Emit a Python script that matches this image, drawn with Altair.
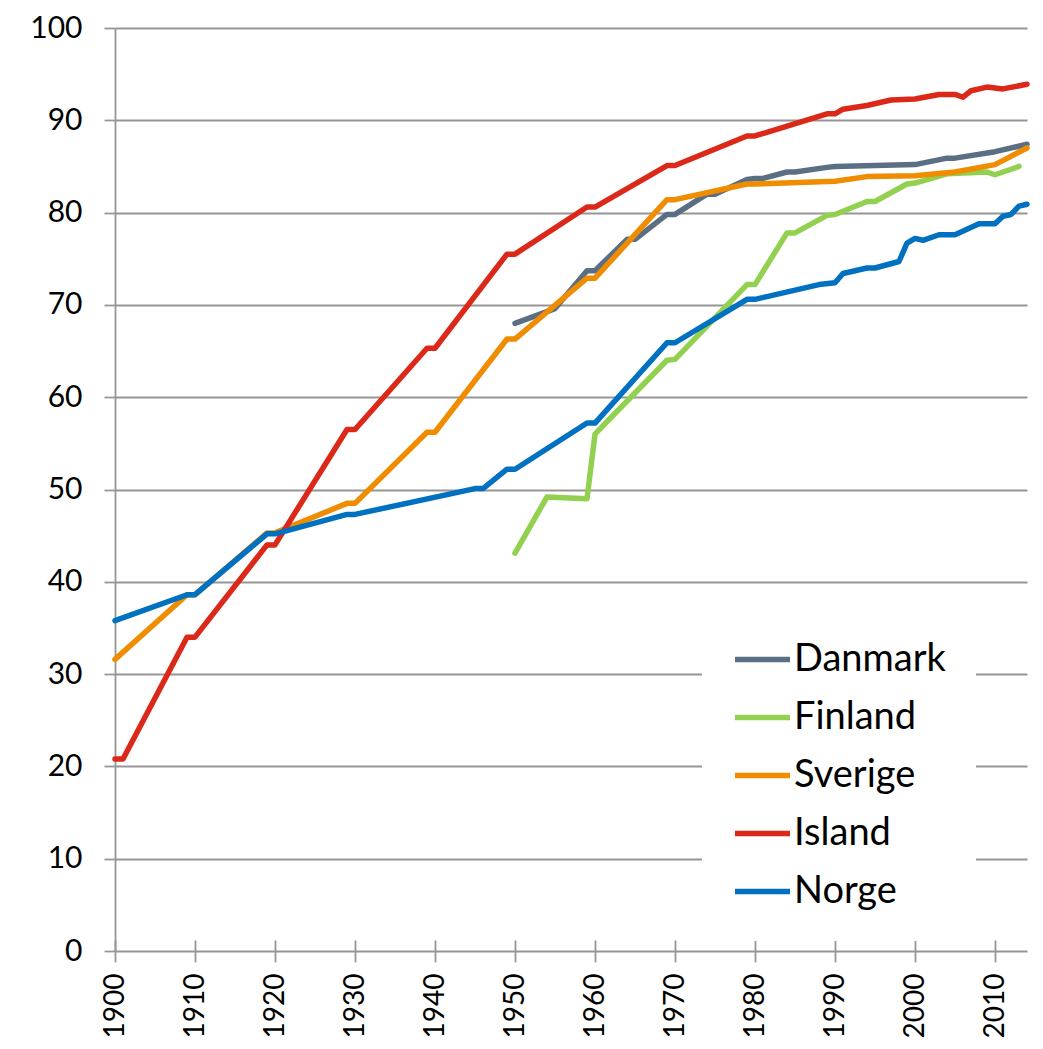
import altair as alt
import pandas as pd

countries = ["Danmark", "Finland", "Sverige", "Island", "Norge"]
colors = ["#5A6F84", "#92D050", "#F08C00", "#DC2818", "#0070C0"]

danmark_years = [1950, 1955, 1959, 1960, 1964, 1965, 1969, 1970, 1974, 1975, 1979, 1980, 1981,
                 1984, 1985, 1989, 1990, 2000, 2004, 2005, 2010, 2014]
danmark_vals = [68.0, 69.6, 73.7, 73.7, 77.1, 77.1, 79.8, 79.8, 82.0, 82.0, 83.6, 83.7, 83.7,
                84.4, 84.4, 84.9, 85.0, 85.2, 85.9, 85.9, 86.6, 87.4]

finland_years = [1950, 1954, 1959, 1960, 1962, 1969, 1970, 1979, 1980, 1984, 1985, 1989, 1990,
                 1994, 1995, 1999, 2000, 2004, 2009, 2010, 2013]
finland_vals = [43.1, 49.2, 49.0, 56.0, 57.8, 64.0, 64.1, 72.2, 72.2, 77.8, 77.8, 79.7, 79.8,
                81.2, 81.2, 83.1, 83.2, 84.2, 84.4, 84.1, 85.0]

sverige_years = [1900, 1909, 1910, 1919, 1920, 1929, 1930, 1939, 1940, 1949, 1950, 1959, 1960,
                 1969, 1970, 1979, 1980, 1990, 1994, 2000, 2005, 2010, 2014]
sverige_vals = [31.6, 38.6, 38.6, 45.3, 45.3, 48.5, 48.5, 56.2, 56.2, 66.3, 66.3, 72.9, 72.9,
                81.4, 81.4, 83.1, 83.1, 83.4, 83.9, 84.0, 84.4, 85.2, 87.0]

island_years = [1900, 1901, 1909, 1910, 1919, 1920, 1929, 1930, 1939, 1940, 1949, 1950, 1959,
                1960, 1969, 1970, 1979, 1980, 1989, 1990, 1991, 1994, 1997, 2000, 2003, 2005,
                2006, 2007, 2009, 2011, 2014]
island_vals = [20.8, 20.8, 34.0, 34.0, 44.0, 44.0, 56.5, 56.5, 65.3, 65.3, 75.5, 75.5, 80.6,
               80.6, 85.1, 85.1, 88.3, 88.3, 90.7, 90.7, 91.2, 91.6, 92.2, 92.3, 92.8, 92.8,
               92.5, 93.2, 93.6, 93.4, 93.9]

norge_years = [1900, 1909, 1910, 1919, 1920, 1929, 1930, 1945, 1946, 1949, 1950, 1959, 1960,
               1969, 1970, 1979, 1980, 1988, 1990, 1991, 1994, 1995, 1998, 1999, 2000, 2001,
               2003, 2005, 2008, 2010, 2011, 2012, 2013, 2014]
norge_vals = [35.8, 38.6, 38.6, 45.2, 45.2, 47.3, 47.3, 50.1, 50.1, 52.2, 52.2, 57.2, 57.2,
              65.9, 65.9, 70.6, 70.6, 72.2, 72.4, 73.4, 74.0, 74.0, 74.7, 76.7, 77.2, 77.0,
              77.6, 77.6, 78.8, 78.8, 79.6, 79.8, 80.7, 80.9]

x_ticks = list(range(1900, 2011, 10))
y_ticks = list(range(0, 101, 10))

series = {
    "Danmark": (danmark_years, danmark_vals),
    "Finland": (finland_years, finland_vals),
    "Sverige": (sverige_years, sverige_vals),
    "Island": (island_years, island_vals),
    "Norge": (norge_years, norge_vals),
}
rows = []
for name, (ys, vs) in series.items():
    for yr, v in zip(ys, vs):
        rows.append({"land": name, "år": yr, "verdi": v})
df = pd.DataFrame(rows)

FONT = "Lato"
GRID = "#969696"

x_enc = alt.X(
    "år:Q",
    scale=alt.Scale(domain=[1900, 2014], nice=False, zero=False),
    axis=alt.Axis(
        values=x_ticks, format="d", labelAngle=-90, grid=False, domain=False,
        offset=-11, tickSize=22, tickColor=GRID, tickWidth=1.8,
        labelFont=FONT, labelFontSize=28, labelColor="black", labelPadding=11,
        title=None,
    ),
)
y_enc = alt.Y(
    "verdi:Q",
    scale=alt.Scale(domain=[0, 100], nice=False),
    axis=alt.Axis(
        values=y_ticks, grid=True, gridColor=GRID, gridWidth=1.8,
        domain=True, domainColor=GRID, domainWidth=1.8,
        tickSize=11, tickColor=GRID, tickWidth=1.8,
        labelFont=FONT, labelFontSize=30, labelColor="black", labelPadding=22,
        title=None,
    ),
)
color_enc = alt.Color(
    "land:N",
    scale=alt.Scale(domain=countries, range=colors),
    legend=alt.Legend(
        title=None, orient="none", legendX=587, legendY=571,
        symbolType="stroke", symbolSize=3025, symbolStrokeWidth=5.5,
        labelFont=FONT, labelFontSize=38, labelColor="black", labelOffset=1,
        labelLimit=400, rowPadding=8, padding=30, fillColor="white",
    ),
)

layers = []
for name in countries:
    layers.append(
        alt.Chart(df)
        .transform_filter(alt.datum.land == name)
        .mark_line(strokeWidth=5.5, strokeJoin="round", strokeCap="round")
        .encode(x=x_enc, y=y_enc, color=color_enc)
    )

chart = (
    alt.layer(*layers)
    .properties(
        width=912, height=923,
        autosize=alt.AutoSizeParams(type="none"),
        padding={"left": 107, "top": 20, "right": 8, "bottom": 90},
        background="white",
    )
    .configure_view(strokeWidth=0)
)

chart.save("out.html", embed_options={"renderer": "svg", "actions": False})
